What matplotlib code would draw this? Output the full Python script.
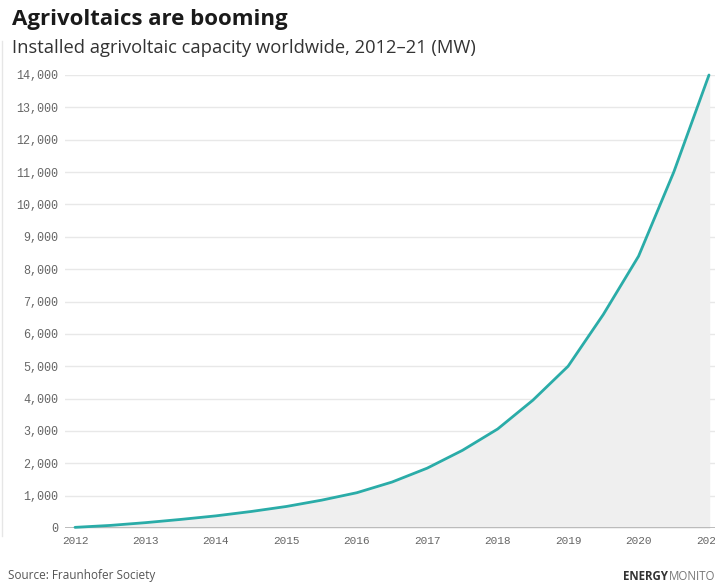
import matplotlib.pyplot as plt
from matplotlib.lines import Line2D

# Installed capacity (MW), read every half year
years = [2012, 2012.5, 2013, 2013.5, 2014, 2014.5, 2015, 2015.5, 2016, 2016.5,
         2017, 2017.5, 2018, 2018.5, 2019, 2019.5, 2020, 2020.5, 2021]
capacity = [20, 80, 165, 265, 375, 510, 665, 860, 1090, 1420,
            1850, 2400, 3060, 3950, 5000, 6600, 8400, 11000, 14000]

x_ticks = list(range(2012, 2022))
y_ticks = list(range(0, 14001, 1000))

LINE = '#2aaca8'
FILL = '#efefef'
GRID = '#e8e8e8'
TICK = '#666666'

fig = plt.figure(figsize=(7.15, 5.83), dpi=100)
ax = fig.add_axes([65 / 715, 1 - 528 / 583, 1 - 65 / 715, (528 - 75) / 583])

ax.fill_between(years, capacity, 0, color=FILL, zorder=1)
ax.plot(years, capacity, color=LINE, lw=2.0, solid_capstyle='round',
        solid_joinstyle='round', zorder=3, clip_on=False)

ax.set_xlim(2012 - 10 / 70.4, 2021 + 6 / 70.4)
ax.set_ylim(0, 14000)

ax.set_yticks(y_ticks)
ax.set_yticklabels([f'{v:,}' for v in y_ticks])
ax.set_xticks(x_ticks)
ax.set_xticklabels([str(y) for y in x_ticks])

ax.tick_params(axis='both', length=0, labelcolor=TICK)
ax.tick_params(axis='y', pad=5, labelsize=8.5)
ax.tick_params(axis='x', pad=6, labelsize=8)
for lbl in ax.get_xticklabels() + ax.get_yticklabels():
    lbl.set_family('Liberation Mono')

ax.grid(axis='y', color=GRID, lw=1)
ax.set_axisbelow(True)
for s in ax.spines.values():
    s.set_visible(False)
ax.axhline(0, color='#aaaaaa', lw=1.8, zorder=2)

# headings
fig.text(12 / 715, 1 - 19 / 583, 'Agrivoltaics are booming', fontsize=16,
         fontweight='bold', family='Open Sans', color='#1a1a1a', va='center', ha='left')
fig.text(12 / 715, 1 - 48 / 583, 'Installed agrivoltaic capacity worldwide, 2012\u201321 (MW)',
         fontsize=13.2, family='Open Sans', color='#333333', va='center', ha='left')

# footer
fig.text(8 / 715, 1 - 576 / 583, 'Source: Fraunhofer Society', fontsize=8.5,
         family='Open Sans', color='#555555', va='center', ha='left')
fig.text(623 / 715, 1 - 576 / 583, 'ENERGY', fontsize=8.3, fontweight='bold',
         family='Open Sans', color='#333333', va='center', ha='left')
fig.text(669 / 715, 1 - 576 / 583, 'MONITOR', fontsize=8.3,
         family='Open Sans', color='#777777', va='center', ha='left')

# thin frame line on the left edge
fig.add_artist(Line2D([0.003, 0.003], [0.08, 0.93], color='#e6e6e6', lw=1))

fig.savefig('out.png', dpi=100)
